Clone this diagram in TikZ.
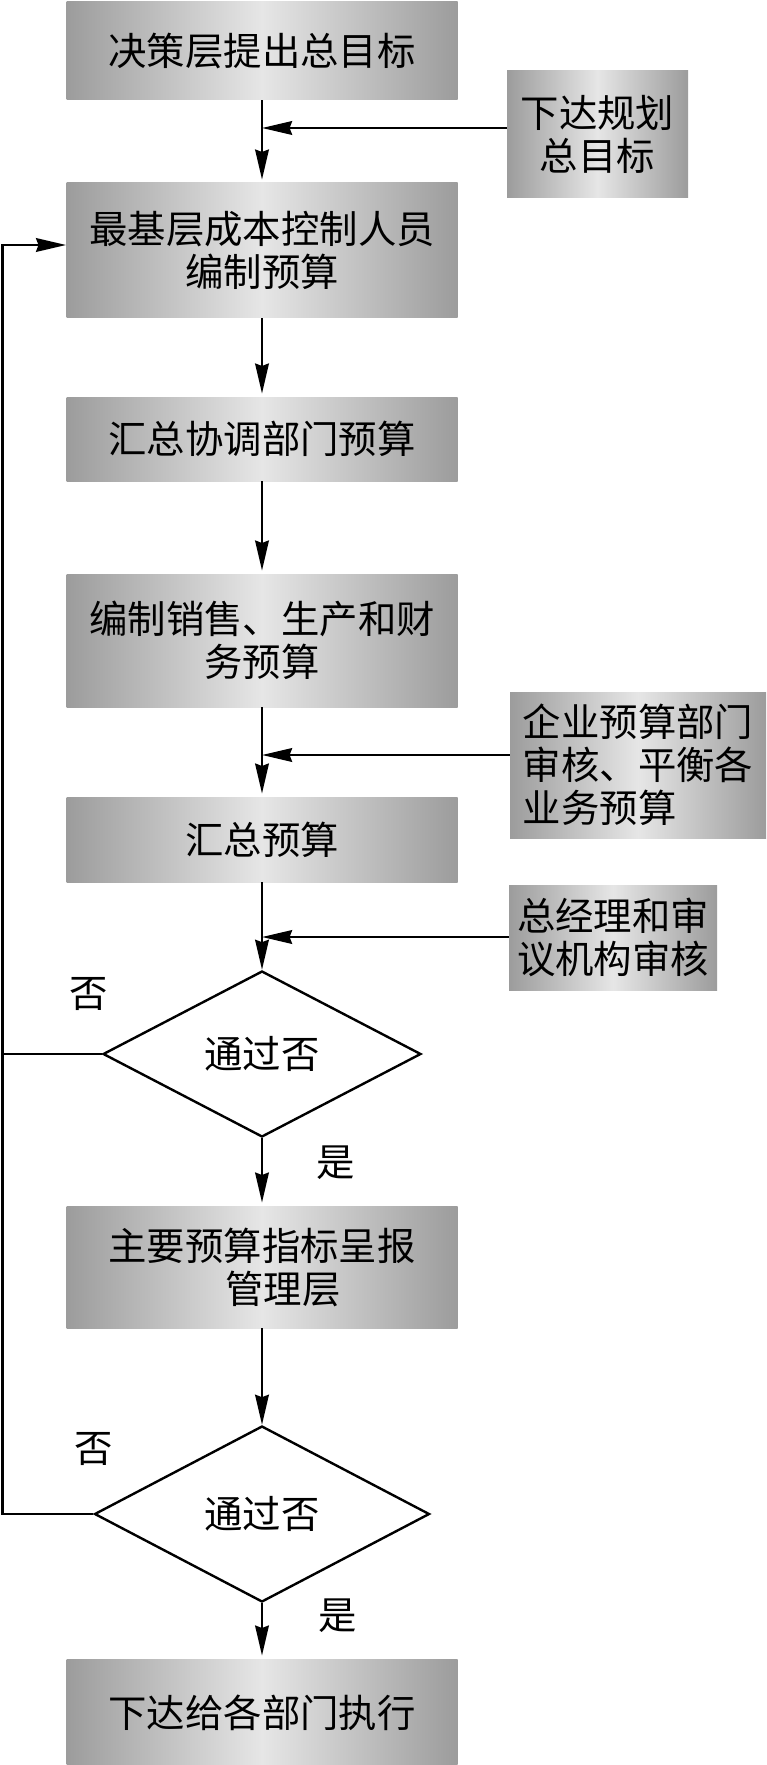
\documentclass[tikz,border=0pt]{standalone}
\usepackage{fontspec}
\setmainfont{Noto Sans CJK SC}
\usetikzlibrary{arrows.meta,shapes.geometric}
\definecolor{edgegray}{RGB}{156,156,156}
\definecolor{midgray}{RGB}{230,230,230}
\begin{document}
\begin{tikzpicture}[x=0.5pt,y=-0.5pt,
  txt/.style={font=\fontsize{19.2pt}{21.5pt}\selectfont},
  box/.style={txt,shading=axis,left color=edgegray,right color=edgegray,middle color=midgray,inner sep=0pt,align=center},
  mainbox/.style={box,minimum width=195.5pt},
  decision/.style={txt,shape=diamond,draw,line width=1.2pt,fill=white,inner sep=0pt},
  lbl/.style={txt,inner sep=0pt},
  conn/.style={line width=1.35pt},
  arr/.style={line width=1.35pt,-{Stealth[length=15pt,width=6.8pt,inset=1.2pt]}}]
\fill[white] (0,0) rectangle (766,1765);
\useasboundingbox (0,0) rectangle (766,1765);
% main column
\node[mainbox,minimum height=49pt] (b1) at (262,51) {决策层提出总目标};
\node[mainbox,minimum height=67.5pt] (b2) at (262,250.5) {最基层成本控制人员\\编制预算};
\node[mainbox,minimum height=42pt] (b3) at (262,439) {汇总协调部门预算};
\node[mainbox,minimum height=66.5pt] (b4) at (262,640.5) {编制销售、生产和财\\务预算};
\node[mainbox,minimum height=42.5pt] (b5) at (262,839.5) {汇总预算};
\node[decision,minimum width=159pt,minimum height=83pt] (d1) at (262,1054) {通过否};
\node[mainbox,minimum height=61pt] (b6) at (262,1267) {主要预算指标呈报\\\hspace*{21pt}管理层};
\node[decision,minimum width=167.5pt,minimum height=88pt] (d2) at (262,1514) {通过否};
\node[mainbox,minimum height=53.5pt] (b7) at (262,1712.5) {下达给各部门执行};
% side boxes
\node[box,minimum width=90.5pt,minimum height=63.5pt] (s1) at (597.5,134.5) {下达规划\\总目标};
\node[box,align=left,minimum width=128pt,minimum height=73pt] (s2) at (638,765) {企业预算部门\\审核、平衡各\\业务预算};
\node[box,minimum width=104pt,minimum height=52.5pt] (s3) at (613,937.5) {总经理和审\\议机构审核};
% labels
\node[lbl] (n1) at (89,994) {否};
\node[lbl] (n2) at (94,1449) {否};
\node[lbl] (y1) at (336,1163) {是};
\node[lbl] (y2) at (338,1616) {是};
% junctions
\coordinate (j1) at (262,128);
\coordinate (j2) at (262,755);
\coordinate (j3) at (262,937);
\coordinate (L1) at (2.5,245);
% vertical flow
\draw[arr,shorten >=1.5pt] (b1.south) -- (b2.north);
\draw[arr,shorten >=1.5pt] (b2.south) -- (b3.north);
\draw[arr,shorten >=1.5pt] (b3.south) -- (b4.north);
\draw[arr,shorten >=1.5pt] (b4.south) -- (b5.north);
\draw[arr] (b5.south) -- (d1.north);
\draw[arr,shorten >=1.5pt] (d1.south) -- (b6.north);
\draw[arr] (b6.south) -- (d2.north);
\draw[arr,shorten >=1.5pt] (d2.south) -- (b7.north);
% side inputs
\draw[arr] (s1.west |- j1) -- (j1);
\draw[arr] (s2.west |- j2) -- (j2);
\draw[arr] (s3.west |- j3) -- (j3);
% loops
\draw[arr] (d1.west) -| (L1) -- (b2.west |- L1);
\draw[conn] (d2.west) -- (d2.west -| L1) -- (d1.west -| L1);
\end{tikzpicture}
\end{document}
